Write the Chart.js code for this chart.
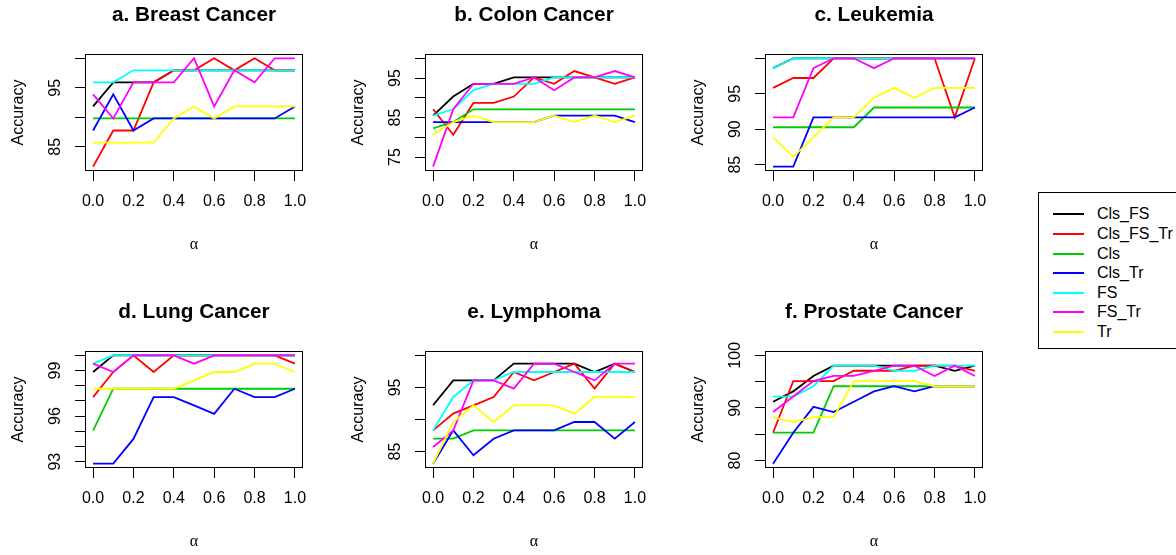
<!DOCTYPE html>
<html>
<head>
<meta charset="utf-8">
<script src="https://cdn.jsdelivr.net/npm/chart.js@4/dist/chart.umd.min.js"></script>
<style>
  html, body { margin: 0; padding: 0; background: #fff; }
  body { width: 1176px; height: 555px; overflow: hidden; position: relative; font-family: "Liberation Sans", Arial, sans-serif; }
  .panel { position: absolute; width: 340px; height: 258px; }
  #legend { position: absolute; left: 1038px; top: 192px; width: 160px; height: 157px; border: 1px solid #000; box-sizing: border-box; }
  .row { position: absolute; left: 0; height: 20px; line-height: 20px; font-size: 16px; color: #000; white-space: nowrap; }
  .swatch { position: absolute; left: 14px; top: 9px; width: 31px; height: 2px; }
  .lab { position: absolute; left: 58px; top: 0; }
</style>
</head>
<body>
<div class="panel" style="left:0px;top:0px"><canvas id="c0" width="340" height="258"></canvas></div>
<div class="panel" style="left:340px;top:0px"><canvas id="c1" width="340" height="258"></canvas></div>
<div class="panel" style="left:680px;top:0px"><canvas id="c2" width="340" height="258"></canvas></div>
<div class="panel" style="left:0px;top:297px"><canvas id="c3" width="340" height="258"></canvas></div>
<div class="panel" style="left:340px;top:297px"><canvas id="c4" width="340" height="258"></canvas></div>
<div class="panel" style="left:680px;top:297px"><canvas id="c5" width="340" height="258"></canvas></div>
<div id="legend"></div>
<script>
// ---------- data ----------
const alphaValues = [0, 0.1, 0.2, 0.3, 0.4, 0.5, 0.6, 0.7, 0.8, 0.9, 1.0];
const xTickValues = [0, 0.2, 0.4, 0.6, 0.8, 1.0];
const seriesNames = ['Cls_FS', 'Cls_FS_Tr', 'Cls', 'Cls_Tr', 'FS', 'FS_Tr', 'Tr'];
const seriesColors = ['#000000', '#FF0000', '#00CD00', '#0000FF', '#00FFFF', '#FF00FF', '#FFFF00'];
const panelTitles = ['a. Breast Cancer', 'b. Colon Cancer', 'c. Leukemia', 'd. Lung Cancer', 'e. Lymphoma', 'f. Prostate Cancer'];

// rows follow seriesNames order
const breastCancer = [
  [91.84, 95.92, 95.92, 95.92, 97.96, 97.96, 97.96, 97.96, 97.96, 97.96, 97.96],
  [81.63, 87.76, 87.76, 95.92, 97.96, 97.96, 100, 97.96, 100, 97.96, 97.96],
  [89.80, 89.80, 89.80, 89.80, 89.80, 89.80, 89.80, 89.80, 89.80, 89.80, 89.80],
  [87.76, 93.88, 87.76, 89.80, 89.80, 89.80, 89.80, 89.80, 89.80, 89.80, 91.84],
  [95.92, 95.92, 97.96, 97.96, 97.96, 97.96, 97.96, 97.96, 97.96, 97.96, 97.96],
  [93.88, 89.80, 95.92, 95.92, 95.92, 100, 91.84, 97.96, 95.92, 100, 100],
  [85.71, 85.71, 85.71, 85.71, 89.80, 91.84, 89.80, 91.84, 91.84, 91.84, 91.84]
];
const colonCancer = [
  [85.48, 90.32, 93.55, 93.55, 95.16, 95.16, 95.16, 95.16, 95.16, 95.16, 95.16],
  [87.10, 80.65, 88.71, 88.71, 90.32, 95.16, 93.55, 96.77, 95.16, 93.55, 95.16],
  [82.26, 83.87, 87.10, 87.10, 87.10, 87.10, 87.10, 87.10, 87.10, 87.10, 87.10],
  [83.87, 83.87, 83.87, 83.87, 83.87, 83.87, 85.48, 85.48, 85.48, 85.48, 83.87],
  [85.48, 87.10, 91.94, 93.55, 93.55, 93.55, 95.16, 95.16, 95.16, 95.16, 95.16],
  [72.58, 87.10, 93.55, 93.55, 93.55, 95.16, 91.94, 95.16, 95.16, 96.77, 95.16],
  [80.65, 83.87, 85.48, 83.87, 83.87, 83.87, 85.48, 83.87, 85.48, 83.87, 85.48]
];
const leukemia = [
  [98.61, 100, 100, 100, 100, 100, 100, 100, 100, 100, 100],
  [95.83, 97.22, 97.22, 100, 100, 100, 100, 100, 100, 91.67, 100],
  [90.28, 90.28, 90.28, 90.28, 90.28, 93.06, 93.06, 93.06, 93.06, 93.06, 93.06],
  [84.72, 84.72, 91.67, 91.67, 91.67, 91.67, 91.67, 91.67, 91.67, 91.67, 93.06],
  [98.61, 100, 100, 100, 100, 100, 100, 100, 100, 100, 100],
  [91.67, 91.67, 98.61, 100, 100, 98.61, 100, 100, 100, 100, 100],
  [88.89, 86.11, 88.89, 91.67, 91.67, 94.44, 95.83, 94.44, 95.83, 95.83, 95.83]
];
const lungCancer = [
  [98.90, 100, 100, 100, 100, 100, 100, 100, 100, 100, 100],
  [97.25, 98.90, 100, 98.90, 100, 100, 100, 100, 100, 100, 99.45],
  [95.05, 97.80, 97.80, 97.80, 97.80, 97.80, 97.80, 97.80, 97.80, 97.80, 97.80],
  [92.87, 92.87, 94.50, 97.25, 97.25, 96.70, 96.15, 97.80, 97.25, 97.25, 97.80],
  [99.45, 100, 100, 100, 100, 100, 100, 100, 100, 100, 100],
  [99.45, 98.90, 100, 100, 100, 99.45, 100, 100, 100, 100, 100],
  [97.80, 97.80, 97.80, 97.80, 97.80, 98.35, 98.90, 98.90, 99.45, 99.45, 98.90]
];
const lymphoma = [
  [92.21, 96.10, 96.10, 96.10, 98.70, 98.70, 98.70, 98.70, 97.40, 98.70, 97.40],
  [88.31, 90.91, 92.21, 93.51, 97.40, 96.10, 97.40, 98.70, 94.81, 98.70, 97.40],
  [87.01, 87.01, 88.31, 88.31, 88.31, 88.31, 88.31, 88.31, 88.31, 88.31, 88.31],
  [83.12, 88.31, 84.42, 87.01, 88.31, 88.31, 88.31, 89.61, 89.61, 87.01, 89.61],
  [88.31, 93.51, 96.10, 96.10, 97.40, 97.40, 97.40, 97.40, 97.40, 97.40, 97.40],
  [85.71, 88.31, 96.10, 96.10, 94.81, 98.70, 98.70, 97.40, 96.10, 98.70, 98.70],
  [83.12, 89.61, 92.21, 89.61, 92.21, 92.21, 92.21, 90.91, 93.51, 93.51, 93.51]
];
const prostateCancer = [
  [91.18, 93.14, 96.08, 98.04, 98.04, 98.04, 98.04, 98.04, 98.04, 97.06, 98.04],
  [85.29, 95.10, 95.10, 95.10, 97.06, 97.06, 97.06, 98.04, 98.04, 98.04, 97.06],
  [85.29, 85.29, 85.29, 94.12, 94.12, 94.12, 94.12, 94.12, 94.12, 94.12, 94.12],
  [79.41, 85.29, 90.20, 89.22, 91.18, 93.14, 94.12, 93.14, 94.12, 94.12, 94.12],
  [92.16, 92.16, 94.12, 98.04, 98.04, 98.04, 97.06, 97.06, 98.04, 98.04, 98.04],
  [89.22, 92.16, 95.10, 96.08, 96.08, 97.06, 98.04, 98.04, 96.08, 98.04, 96.08],
  [88.24, 87.25, 88.24, 88.24, 95.10, 95.10, 95.10, 95.10, 94.12, 94.12, 94.12]
];

const yTicksBreast = [85, 90, 95, 100];            const yLabelsBreast = [85, 95];
const yTicksColon = [75, 80, 85, 90, 95, 100];      const yLabelsColon = [75, 85, 95];
const yTicksLeukemia = [85, 90, 95, 100];           const yLabelsLeukemia = [85, 90, 95];
const yTicksLung = [93, 94, 95, 96, 97, 98, 99, 100]; const yLabelsLung = [93, 96, 99];
const yTicksLymphoma = [85, 90, 95, 100];           const yLabelsLymphoma = [85, 95];
const yTicksProstate = [80, 85, 90, 95, 100];       const yLabelsProstate = [80, 90, 100];
const yUpperLimit = 100;

// ---------- rendering ----------
Chart.defaults.font.family = '"Liberation Sans", Arial, Helvetica, sans-serif';
Chart.defaults.font.size = 16;
Chart.defaults.color = '#000';

const panelData = [breastCancer, colonCancer, leukemia, lungCancer, lymphoma, prostateCancer];
const panelTicks = [yTicksBreast, yTicksColon, yTicksLeukemia, yTicksLung, yTicksLymphoma, yTicksProstate];
const panelLabels = [yLabelsBreast, yLabelsColon, yLabelsLeukemia, yLabelsLung, yLabelsLymphoma, yLabelsProstate];

const boxPlugin = {
  id: 'rbox',
  afterDraw(chart) {
    const { ctx, chartArea: a } = chart;
    ctx.save();
    ctx.strokeStyle = '#000';
    ctx.lineWidth = 1;
    const l = Math.round(a.left), t = Math.round(a.top), r = Math.round(a.right), b = Math.round(a.bottom);
    ctx.strokeRect(l + 0.5, t + 0.5, r - l - 1, b - t - 1);
    ctx.restore();
  }
};

const measureCtx = document.createElement('canvas').getContext('2d');
measureCtx.font = '16px "Liberation Sans", Arial, sans-serif';

panelData.forEach((rows, p) => {
  const all = rows.flat();
  const lo = Math.min(...all), hi = yUpperLimit;
  const ext = 0.04 * (hi - lo);
  const ticks = panelTicks[p], labels = panelLabels[p];
  const widest = Math.max(...labels.map(v => measureCtx.measureText(String(v)).width));
  const yPad = 19.2 - widest / 2;

  const datasets = rows.map((vals, i) => ({
    label: seriesNames[i],
    data: vals.map((v, k) => ({ x: alphaValues[k], y: v })),
    borderColor: seriesColors[i],
    backgroundColor: seriesColors[i],
    borderWidth: 1.8,
    pointRadius: 0,
    tension: 0,
    fill: false,
    order: seriesNames.length - 1 - i
  }));

  new Chart(document.getElementById('c' + p), {
    type: 'line',
    data: { datasets },
    plugins: [boxPlugin],
    options: {
      responsive: false,
      animation: false,
      events: [],
      layout: { padding: { left: 9, right: 37, top: 3, bottom: 4 } },
      plugins: {
        legend: { display: false },
        tooltip: { enabled: false },
        title: {
          display: true,
          fullSize: false,
          align: 'center',
          text: panelTitles[p],
          color: '#000',
          font: { size: 20.8, weight: 'bold', lineHeight: 1.2 },
          padding: { top: 0, bottom: 26 }
        }
      },
      scales: {
        x: {
          type: 'linear',
          min: -0.04, max: 1.04,
          bounds: 'data',
          afterBuildTicks: s => { s.ticks = xTickValues.map(v => ({ value: v })); },
          afterFit: s => { s.height = 83; },
          grid: { display: true, drawOnChartArea: false, drawTicks: true, tickLength: 10, color: '#000', lineWidth: 1 },
          border: { display: false },
          ticks: { autoSkip: false, maxRotation: 0, minRotation: 0, padding: 11, color: '#000',
                   font: { size: 16, lineHeight: 1.2 }, callback: v => Number(v).toFixed(1) },
          title: { display: true, text: 'α', color: '#000', padding: 0,
                   font: { family: '"Liberation Serif", "DejaVu Serif", serif', size: 16, lineHeight: 1.2 } }
        },
        y: {
          type: 'linear',
          min: lo - ext, max: hi + ext,
          bounds: 'data',
          afterBuildTicks: s => { s.ticks = ticks.map(v => ({ value: v })); },
          afterFit: s => { s.width = 76; },
          grid: { display: true, drawOnChartArea: false, drawTicks: true, tickLength: 10, color: '#000', lineWidth: 1 },
          border: { display: false },
          ticks: { autoSkip: false, minRotation: 90, maxRotation: 90, crossAlign: 'center', padding: yPad, color: '#000',
                   font: { size: 16, lineHeight: 1.2 },
                   callback: v => labels.includes(v) ? String(v) : '' },
          title: { display: true, text: 'Accuracy', color: '#000', padding: 0, font: { size: 16, lineHeight: 1.2 } }
        }
      }
    }
  });
});

// legend (HTML text)
const legendEl = document.getElementById('legend');
seriesNames.forEach((name, i) => {
  const row = document.createElement('div');
  row.className = 'row';
  row.style.top = (11.3 + 19.6 * i) + 'px';
  row.style.width = '200px';
  const sw = document.createElement('span');
  sw.className = 'swatch';
  sw.style.background = seriesColors[i];
  const tx = document.createElement('span');
  tx.className = 'lab';
  tx.textContent = name;
  row.appendChild(sw);
  row.appendChild(tx);
  legendEl.appendChild(row);
});
</script>
</body>
</html>
